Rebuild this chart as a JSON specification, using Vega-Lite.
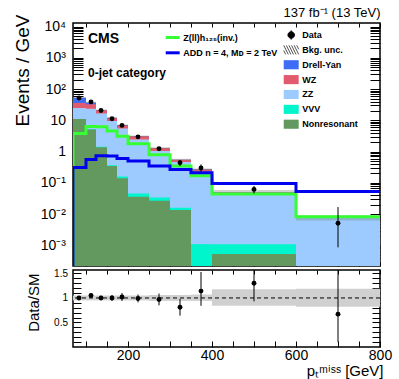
{
  "$schema": "https://vega.github.io/schema/vega-lite/v6.json",
  "padding": {"left": 12, "top": 6, "right": 0, "bottom": 0},
  "background": "white",
  "config": {
    "view": {"stroke": "black", "strokeWidth": 1.5},
    "axis": {"domain": false, "grid": false, "tickColor": "black", "tickWidth": 1, "labelColor": "black", "titleColor": "black", "labelFont": "Liberation Sans", "titleFont": "Liberation Sans", "labelOverlap": false, "labelFlush": false, "labelBound": false},
    "legend": {"labelFont": "Liberation Sans", "labelColor": "black", "padding": 0, "offset": 0}
  },
  "datasets": {
    "bkg": [
      {"process": "Drell-Yan", "lo": 70, "hi": 100, "cum": 53},
      {"process": "Drell-Yan", "lo": 100, "hi": 125, "cum": 37.5},
      {"process": "Drell-Yan", "lo": 125, "hi": 150, "cum": 21.2},
      {"process": "Drell-Yan", "lo": 150, "hi": 175, "cum": 12.1},
      {"process": "Drell-Yan", "lo": 175, "hi": 200, "cum": 7.05},
      {"process": "Drell-Yan", "lo": 200, "hi": 250, "cum": 3.12},
      {"process": "Drell-Yan", "lo": 250, "hi": 300, "cum": 1.31},
      {"process": "Drell-Yan", "lo": 300, "hi": 350, "cum": 0.555},
      {"process": "Drell-Yan", "lo": 350, "hi": 400, "cum": 0.272},
      {"process": "Drell-Yan", "lo": 400, "hi": 600, "cum": 0.0505},
      {"process": "Drell-Yan", "lo": 600, "hi": 800, "cum": 0.0077},
      {"process": "WZ", "lo": 70, "hi": 100, "cum": 36},
      {"process": "WZ", "lo": 100, "hi": 125, "cum": 33},
      {"process": "WZ", "lo": 125, "hi": 150, "cum": 21},
      {"process": "WZ", "lo": 150, "hi": 175, "cum": 12},
      {"process": "WZ", "lo": 175, "hi": 200, "cum": 7.0},
      {"process": "WZ", "lo": 200, "hi": 250, "cum": 3.1},
      {"process": "WZ", "lo": 250, "hi": 300, "cum": 1.3},
      {"process": "WZ", "lo": 300, "hi": 350, "cum": 0.55},
      {"process": "WZ", "lo": 350, "hi": 400, "cum": 0.27},
      {"process": "WZ", "lo": 400, "hi": 600, "cum": 0.05},
      {"process": "WZ", "lo": 600, "hi": 800, "cum": 0.0076},
      {"process": "ZZ", "lo": 70, "hi": 100, "cum": 25},
      {"process": "ZZ", "lo": 100, "hi": 125, "cum": 23.5},
      {"process": "ZZ", "lo": 125, "hi": 150, "cum": 16.6},
      {"process": "ZZ", "lo": 150, "hi": 175, "cum": 9.6},
      {"process": "ZZ", "lo": 175, "hi": 200, "cum": 5.5},
      {"process": "ZZ", "lo": 200, "hi": 250, "cum": 2.45},
      {"process": "ZZ", "lo": 250, "hi": 300, "cum": 1.04},
      {"process": "ZZ", "lo": 300, "hi": 350, "cum": 0.47},
      {"process": "ZZ", "lo": 350, "hi": 400, "cum": 0.226},
      {"process": "ZZ", "lo": 400, "hi": 600, "cum": 0.048},
      {"process": "ZZ", "lo": 600, "hi": 800, "cum": 0.0075},
      {"process": "VVV", "lo": 70, "hi": 100, "cum": 11.1},
      {"process": "VVV", "lo": 100, "hi": 125, "cum": 5.2},
      {"process": "VVV", "lo": 125, "hi": 150, "cum": 1.43},
      {"process": "VVV", "lo": 150, "hi": 175, "cum": 0.365},
      {"process": "VVV", "lo": 175, "hi": 200, "cum": 0.16},
      {"process": "VVV", "lo": 200, "hi": 250, "cum": 0.046},
      {"process": "VVV", "lo": 250, "hi": 300, "cum": 0.034},
      {"process": "VVV", "lo": 300, "hi": 350, "cum": 0.016},
      {"process": "VVV", "lo": 350, "hi": 400, "cum": 0.0011},
      {"process": "VVV", "lo": 400, "hi": 600, "cum": 0.0011},
      {"process": "Nonresonant", "lo": 70, "hi": 100, "cum": 11},
      {"process": "Nonresonant", "lo": 100, "hi": 125, "cum": 5.1},
      {"process": "Nonresonant", "lo": 125, "hi": 150, "cum": 1.39},
      {"process": "Nonresonant", "lo": 150, "hi": 175, "cum": 0.35},
      {"process": "Nonresonant", "lo": 175, "hi": 200, "cum": 0.142},
      {"process": "Nonresonant", "lo": 200, "hi": 250, "cum": 0.036},
      {"process": "Nonresonant", "lo": 250, "hi": 300, "cum": 0.027},
      {"process": "Nonresonant", "lo": 300, "hi": 350, "cum": 0.0135},
      {"process": "Nonresonant", "lo": 400, "hi": 600, "cum": 0.00053}
    ],
    "unc": [
      {"lo": 70, "hi": 100, "tlo": 50.4, "thi": 55.7, "rlo": 0.95, "rhi": 1.05},
      {"lo": 100, "hi": 125, "tlo": 35.6, "thi": 39.4, "rlo": 0.95, "rhi": 1.05},
      {"lo": 125, "hi": 150, "tlo": 20.1, "thi": 22.3, "rlo": 0.95, "rhi": 1.05},
      {"lo": 150, "hi": 175, "tlo": 11.5, "thi": 12.7, "rlo": 0.95, "rhi": 1.05},
      {"lo": 175, "hi": 200, "tlo": 6.7, "thi": 7.4, "rlo": 0.95, "rhi": 1.05},
      {"lo": 200, "hi": 250, "tlo": 2.96, "thi": 3.28, "rlo": 0.95, "rhi": 1.05},
      {"lo": 250, "hi": 300, "tlo": 1.23, "thi": 1.39, "rlo": 0.94, "rhi": 1.06},
      {"lo": 300, "hi": 350, "tlo": 0.52, "thi": 0.59, "rlo": 0.94, "rhi": 1.06},
      {"lo": 350, "hi": 400, "tlo": 0.256, "thi": 0.291, "rlo": 0.94, "rhi": 1.07},
      {"lo": 400, "hi": 600, "tlo": 0.043, "thi": 0.0596, "rlo": 0.84, "rhi": 1.18},
      {"lo": 600, "hi": 800, "tlo": 0.0063, "thi": 0.0092, "rlo": 0.82, "rhi": 1.19}
    ],
    "sig": [
      {"s": "h", "signal": "Z(ll)h₁₂₅(inv.)", "i": 0, "x": 70, "v": 0.00022},
      {"s": "h", "signal": "Z(ll)h₁₂₅(inv.)", "i": 1, "x": 70, "v": 3.8},
      {"s": "h", "signal": "Z(ll)h₁₂₅(inv.)", "i": 2, "x": 100, "v": 6.4},
      {"s": "h", "signal": "Z(ll)h₁₂₅(inv.)", "i": 3, "x": 125, "v": 6.2},
      {"s": "h", "signal": "Z(ll)h₁₂₅(inv.)", "i": 4, "x": 150, "v": 4.6},
      {"s": "h", "signal": "Z(ll)h₁₂₅(inv.)", "i": 5, "x": 175, "v": 3.1},
      {"s": "h", "signal": "Z(ll)h₁₂₅(inv.)", "i": 6, "x": 200, "v": 1.8},
      {"s": "h", "signal": "Z(ll)h₁₂₅(inv.)", "i": 7, "x": 250, "v": 0.8},
      {"s": "h", "signal": "Z(ll)h₁₂₅(inv.)", "i": 8, "x": 300, "v": 0.35},
      {"s": "h", "signal": "Z(ll)h₁₂₅(inv.)", "i": 9, "x": 350, "v": 0.17},
      {"s": "h", "signal": "Z(ll)h₁₂₅(inv.)", "i": 10, "x": 400, "v": 0.044},
      {"s": "h", "signal": "Z(ll)h₁₂₅(inv.)", "i": 11, "x": 600, "v": 0.0082},
      {"s": "h", "signal": "Z(ll)h₁₂₅(inv.)", "i": 12, "x": 800, "v": 0.0082},
      {"s": "add", "signal": "ADD n = 4, Mᴅ = 2 TeV", "i": 0, "x": 70, "v": 0.00022},
      {"s": "add", "signal": "ADD n = 4, Mᴅ = 2 TeV", "i": 1, "x": 70, "v": 0.31},
      {"s": "add", "signal": "ADD n = 4, Mᴅ = 2 TeV", "i": 2, "x": 100, "v": 0.56},
      {"s": "add", "signal": "ADD n = 4, Mᴅ = 2 TeV", "i": 3, "x": 125, "v": 0.74},
      {"s": "add", "signal": "ADD n = 4, Mᴅ = 2 TeV", "i": 4, "x": 150, "v": 0.72},
      {"s": "add", "signal": "ADD n = 4, Mᴅ = 2 TeV", "i": 5, "x": 175, "v": 0.6},
      {"s": "add", "signal": "ADD n = 4, Mᴅ = 2 TeV", "i": 6, "x": 200, "v": 0.5},
      {"s": "add", "signal": "ADD n = 4, Mᴅ = 2 TeV", "i": 7, "x": 250, "v": 0.35},
      {"s": "add", "signal": "ADD n = 4, Mᴅ = 2 TeV", "i": 8, "x": 300, "v": 0.27},
      {"s": "add", "signal": "ADD n = 4, Mᴅ = 2 TeV", "i": 9, "x": 350, "v": 0.21},
      {"s": "add", "signal": "ADD n = 4, Mᴅ = 2 TeV", "i": 10, "x": 400, "v": 0.095},
      {"s": "add", "signal": "ADD n = 4, Mᴅ = 2 TeV", "i": 11, "x": 600, "v": 0.053},
      {"s": "add", "signal": "ADD n = 4, Mᴅ = 2 TeV", "i": 12, "x": 800, "v": 0.053}
    ],
    "obs": [
      {"x": 85, "v": 52, "vlo": 50.7, "vhi": 53.3, "r": 1.0, "rlo": 0.975, "rhi": 1.025},
      {"x": 112.5, "v": 39, "vlo": 37.8, "vhi": 40.2, "r": 1.05, "rlo": 1.016, "rhi": 1.084},
      {"x": 137.5, "v": 20.7, "vlo": 19.8, "vhi": 21.6, "r": 1.0, "rlo": 0.956, "rhi": 1.044},
      {"x": 162.5, "v": 11.3, "vlo": 10.6, "vhi": 12.0, "r": 1.0, "rlo": 0.94, "rhi": 1.06},
      {"x": 187.5, "v": 6.9, "vlo": 6.4, "vhi": 7.4, "r": 1.02, "rlo": 0.94, "rhi": 1.1},
      {"x": 225, "v": 2.97, "vlo": 2.73, "vhi": 3.21, "r": 0.99, "rlo": 0.91, "rhi": 1.07},
      {"x": 275, "v": 1.23, "vlo": 1.08, "vhi": 1.39, "r": 0.97, "rlo": 0.85, "rhi": 1.09},
      {"x": 325, "v": 0.44, "vlo": 0.35, "vhi": 0.54, "r": 0.81, "rlo": 0.64, "rhi": 0.98},
      {"x": 375, "v": 0.3, "vlo": 0.23, "vhi": 0.39, "r": 1.14, "rlo": 0.84, "rhi": 1.53},
      {"x": 500, "v": 0.062, "vlo": 0.046, "vhi": 0.08, "r": 1.3, "rlo": 0.93, "rhi": 1.67},
      {"x": 700, "v": 0.0051, "vlo": 0.00087, "vhi": 0.0169, "r": 0.67, "rlo": 0.1, "rhi": 2.2}
    ]
  },
  "spacing": 4,
  "bounds": "flush",
  "resolve": {"legend": {"color": "independent", "stroke": "independent"}},
  "vconcat": [
    {
      "width": 307,
      "height": 243,
      "title": {"text": "137 fb⁻¹ (13 TeV)", "anchor": "end", "font": "Liberation Sans", "fontSize": 13, "fontWeight": "normal", "color": "black", "offset": -6},
      "resolve": {"axis": {"x": "independent", "y": "independent"}},
      "layer": [
        {
          "data": {"name": "bkg"},
          "mark": {"type": "bar", "clip": true, "strokeWidth": 0},
          "encoding": {
            "x": {"field": "lo", "type": "quantitative", "scale": {"domain": [70, 800], "nice": false, "zero": false, "round": true},
              "axis": {"orient": "bottom", "values": [100,150,200,250,300,350,400,450,500,550,600,650,700,750,800], "labels": false, "title": null, "tickSize": -4,
                "encode": {"ticks": {"update": {"y2": {"signal": "datum.value % 200 === 0 ? -6 : -4"}}}}}},
            "x2": {"field": "hi"},
            "y": {"field": "cum", "type": "quantitative", "stack": null, "scale": {"type": "log", "domain": [0.00022, 13000], "nice": false},
              "axis": {"orient": "left", "values": [0.0003,0.0004,0.0005,0.0006,0.0007,0.0008,0.0009,0.001,0.002,0.003,0.004,0.005,0.006,0.007,0.008,0.009,0.01,0.02,0.03,0.04,0.05,0.06,0.07,0.08,0.09,0.1,0.2,0.3,0.4,0.5,0.6,0.7,0.8,0.9,1,2,3,4,5,6,7,8,9,10,20,30,40,50,60,70,80,90,100,200,300,400,500,600,700,800,900,1000,2000,3000,4000,5000,6000,7000,8000,9000,10000],
                "labelExpr": "datum.value === 10000 ? '10⁴' : datum.value === 1000 ? '10³' : datum.value === 100 ? '10²' : datum.value === 10 ? '10' : datum.value === 1 ? '1' : datum.value === 0.1 ? '10⁻¹' : datum.value === 0.01 ? '10⁻²' : datum.value === 0.001 ? '10⁻³' : ''",
                "labelFontSize": 14, "labelAlign": "right", "labelBaseline": "middle", "tickSize": -10, "labelPadding": 17.5,
                "title": "Events / GeV", "titleFontSize": 19, "titleFontWeight": "normal", "titleAngle": -90, "titleAlign": "right", "titleAnchor": "end", "titleBaseline": "alphabetic", "titleX": -44.5, "titleY": -9,
                "encode": {"ticks": {"update": {"x2": {"signal": "abs(log(datum.value)/LN10 - round(log(datum.value)/LN10)) < 0.0001 ? 10 : 5"}}}}}},
            "y2": {"datum": 0.00022},
            "color": {"field": "process", "type": "nominal",
              "scale": {"domain": ["Data", "Bkg. unc.", "Drell-Yan", "WZ", "ZZ", "VVV", "Nonresonant"], "range": ["#000000", "#ffffff", "#3d6cf5", "#e25a6e", "#9dcbff", "#00f5cc", "#63995f"]},
              "legend": {"title": null, "orient": "none", "legendX": 211.2, "legendY": 5, "symbolSize": 169, "labelFontSize": 9, "labelFontWeight": "bold", "labelOffset": 4, "rowPadding": 0.87, "padding": 0, "labelLimit": 300,
                "encode": {"symbols": {"update": {
                  "shape": {"signal": "datum.value === 'Data' ? 'M-0.5,0A0.5,0.5,0,1,1,0.5,0A0.5,0.5,0,1,1,-0.5,0ZM0,-0.72L0,0.72' : datum.value === 'Bkg. unc.' ? 'M-1.15,-0.7L-0.45,0.7M-0.75,-0.7L-0.05,0.7M-0.35,-0.7L0.35,0.7M0.05,-0.7L0.75,0.7M0.45,-0.7L1.15,0.7M0.85,-0.7L1.15,-0.1M-1.15,0.1L-0.85,0.7' : 'M-1.15,-0.7L1.15,-0.7L1.15,0.7L-1.15,0.7Z'"},
                  "stroke": {"signal": "datum.value === 'Data' ? '#000000' : datum.value === 'Bkg. unc.' ? '#555555' : 'transparent'"},
                  "strokeWidth": {"value": 1},
                  "opacity": {"value": 1},
                  "fillOpacity": {"value": 1}
                }}}}}
          }
        },
        {
          "data": {"name": "unc"},
          "mark": {"type": "bar", "clip": true, "fill": "#777777", "fillOpacity": 0.35, "strokeWidth": 0},
          "encoding": {
            "x": {"field": "lo", "type": "quantitative", "axis": null},
            "x2": {"field": "hi"},
            "y": {"field": "tlo", "type": "quantitative", "axis": null},
            "y2": {"field": "thi"}
          }
        },
        {
          "data": {"name": "sig"},
          "transform": [{"filter": "datum.s === 'h'"}],
          "mark": {"type": "line", "interpolate": "step-after", "strokeWidth": 3, "clip": true, "strokeJoin": "miter", "strokeCap": "butt"},
          "encoding": {
            "x": {"field": "x", "type": "quantitative",
              "axis": {"orient": "top", "values": [100,150,200,250,300,350,400,450,500,550,600,650,700,750,800], "labels": false, "title": null, "tickSize": -4,
                "encode": {"ticks": {"update": {"y2": {"signal": "datum.value % 200 === 0 ? 6 : 4"}}}}}},
            "y": {"field": "v", "type": "quantitative",
              "axis": {"orient": "right", "values": [0.0003,0.0004,0.0005,0.0006,0.0007,0.0008,0.0009,0.001,0.002,0.003,0.004,0.005,0.006,0.007,0.008,0.009,0.01,0.02,0.03,0.04,0.05,0.06,0.07,0.08,0.09,0.1,0.2,0.3,0.4,0.5,0.6,0.7,0.8,0.9,1,2,3,4,5,6,7,8,9,10,20,30,40,50,60,70,80,90,100,200,300,400,500,600,700,800,900,1000,2000,3000,4000,5000,6000,7000,8000,9000,10000],
                "labels": false, "title": null, "tickSize": -10,
                "encode": {"ticks": {"update": {"x2": {"signal": "abs(log(datum.value)/LN10 - round(log(datum.value)/LN10)) < 0.0001 ? -10 : -5"}}}}}},
            "stroke": {"field": "signal", "type": "nominal",
              "scale": {"domain": ["Z(ll)h₁₂₅(inv.)", "ADD n = 4, Mᴅ = 2 TeV"], "range": ["#33ff33", "#0000f0"]},
              "legend": {"title": null, "orient": "none", "legendX": 91.2, "legendY": 6, "symbolType": "stroke", "symbolSize": 196, "symbolStrokeWidth": 3, "labelFontSize": 9, "labelFontWeight": "bold", "labelOffset": 2, "rowPadding": 0.3, "padding": 0, "labelLimit": 300}},
            "order": {"field": "i", "type": "quantitative"}
          }
        },
        {
          "data": {"name": "sig"},
          "transform": [{"filter": "datum.s === 'add'"}],
          "mark": {"type": "line", "interpolate": "step-after", "strokeWidth": 3, "clip": true, "strokeJoin": "miter", "strokeCap": "butt"},
          "encoding": {
            "x": {"field": "x", "type": "quantitative", "axis": null},
            "y": {"field": "v", "type": "quantitative", "axis": null},
            "stroke": {"field": "signal", "type": "nominal",
              "scale": {"domain": ["Z(ll)h₁₂₅(inv.)", "ADD n = 4, Mᴅ = 2 TeV"], "range": ["#33ff33", "#0000f0"]},
              "legend": {"title": null, "orient": "none", "legendX": 91.2, "legendY": 6, "symbolType": "stroke", "symbolSize": 196, "symbolStrokeWidth": 3, "labelFontSize": 9, "labelFontWeight": "bold", "labelOffset": 2, "rowPadding": 0.3, "padding": 0, "labelLimit": 300}},
            "order": {"field": "i", "type": "quantitative"}
          }
        },
        {
          "data": {"name": "obs"},
          "mark": {"type": "rule", "color": "black", "strokeWidth": 1, "clip": true},
          "encoding": {
            "x": {"field": "x", "type": "quantitative", "axis": null},
            "y": {"field": "vlo", "type": "quantitative", "axis": null},
            "y2": {"field": "vhi"}
          }
        },
        {
          "data": {"name": "obs"},
          "mark": {"type": "circle", "size": 24, "color": "black", "opacity": 1, "clip": true},
          "encoding": {
            "x": {"field": "x", "type": "quantitative", "axis": null},
            "y": {"field": "v", "type": "quantitative", "axis": null}
          }
        },
        {
          "data": {"values": [{}]},
          "mark": {"type": "text", "text": "CMS", "align": "left", "baseline": "alphabetic", "font": "Liberation Sans", "fontSize": 14, "fontWeight": "bold", "color": "black"},
          "encoding": {
            "x": {"datum": 104.5, "type": "quantitative", "axis": null},
            "y": {"datum": 3000, "type": "quantitative", "axis": null}
          }
        },
        {
          "data": {"values": [{}]},
          "mark": {"type": "text", "text": "0-jet category", "align": "left", "baseline": "alphabetic", "font": "Liberation Sans", "fontSize": 12, "fontWeight": "bold", "color": "black"},
          "encoding": {
            "x": {"datum": 104.5, "type": "quantitative", "axis": null},
            "y": {"datum": 250, "type": "quantitative", "axis": null}
          }
        }
      ]
    },
    {
      "width": 307,
      "height": 77,
      "resolve": {"axis": {"x": "independent", "y": "independent"}},
      "layer": [
        {
          "data": {"name": "unc"},
          "mark": {"type": "bar", "clip": true, "fill": "#d0d0d0", "strokeWidth": 0},
          "encoding": {
            "x": {"field": "lo", "type": "quantitative", "scale": {"domain": [70, 800], "nice": false, "zero": false, "round": true},
              "axis": {"orient": "bottom", "values": [100,150,200,250,300,350,400,450,500,550,600,650,700,750,800],
                "labelExpr": "datum.value % 200 === 0 ? datum.label : ''", "labelFontSize": 14, "tickSize": -6, "labelPadding": 7,
                "title": "pₜᵐⁱˢˢ [GeV]", "titleFontSize": 15, "titleFontWeight": "normal", "titleAnchor": "end", "titleAlign": "right", "titleBaseline": "alphabetic", "titleX": 310, "titleY": 28,
                "encode": {"ticks": {"update": {"y2": {"signal": "datum.value % 200 === 0 ? -7 : -4"}}}}}},
            "x2": {"field": "hi"},
            "y": {"field": "rlo", "type": "quantitative", "scale": {"domain": [0, 1.57], "nice": false, "zero": false},
              "axis": {"orient": "left", "values": [0.1,0.2,0.3,0.4,0.5,0.6,0.7,0.8,0.9,1,1.1,1.2,1.3,1.4,1.5],
                "labelExpr": "datum.value === 0.5 ? '0.5' : datum.value === 1 ? '1' : datum.value === 1.5 ? '1.5' : ''",
                "labelFontSize": 10, "labelAlign": "right", "labelBaseline": "middle", "tickSize": -8, "labelPadding": 13.5,
                "title": "Data/SM", "titleFontSize": 15, "titleFontWeight": "normal", "titleAngle": -90, "titleAlign": "right", "titleAnchor": "end", "titleBaseline": "alphabetic", "titleX": -35, "titleY": 3,
                "encode": {"ticks": {"update": {"x2": {"signal": "abs(datum.value*2 - round(datum.value*2)) < 0.0001 ? 8 : 4"}}}}}},
            "y2": {"field": "rhi"}
          }
        },
        {
          "data": {"values": [{}]},
          "mark": {"type": "rule", "color": "black", "strokeWidth": 1, "strokeDash": [4, 3]},
          "encoding": {
            "y": {"datum": 1, "type": "quantitative", "axis": null}
          }
        },
        {
          "data": {"name": "obs"},
          "mark": {"type": "rule", "color": "black", "strokeWidth": 1, "clip": true},
          "encoding": {
            "x": {"field": "x", "type": "quantitative",
              "axis": {"orient": "top", "values": [100,150,200,250,300,350,400,450,500,550,600,650,700,750,800], "labels": false, "title": null, "tickSize": -4,
                "encode": {"ticks": {"update": {"y2": {"signal": "datum.value % 200 === 0 ? 6 : 4"}}}}}},
            "y": {"field": "rlo", "type": "quantitative",
              "axis": {"orient": "right", "values": [0.1,0.2,0.3,0.4,0.5,0.6,0.7,0.8,0.9,1,1.1,1.2,1.3,1.4,1.5], "labels": false, "title": null, "tickSize": -8,
                "encode": {"ticks": {"update": {"x2": {"signal": "abs(datum.value*2 - round(datum.value*2)) < 0.0001 ? -8 : -4"}}}}}},
            "y2": {"field": "rhi"}
          }
        },
        {
          "data": {"name": "obs"},
          "mark": {"type": "circle", "size": 24, "color": "black", "opacity": 1, "clip": true},
          "encoding": {
            "x": {"field": "x", "type": "quantitative", "axis": null},
            "y": {"field": "r", "type": "quantitative", "axis": null}
          }
        }
      ]
    }
  ]
}
